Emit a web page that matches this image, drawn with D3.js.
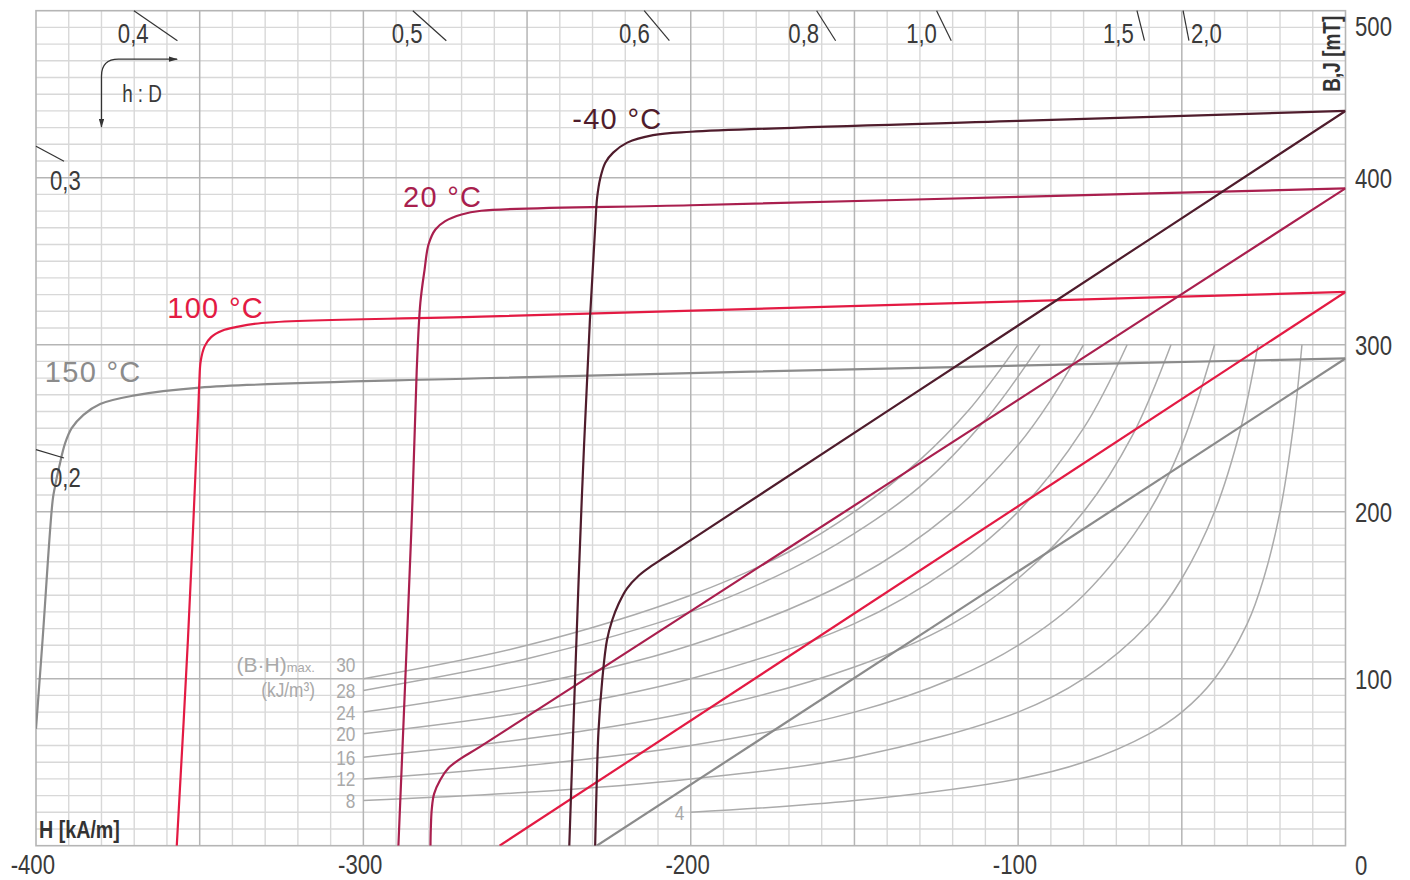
<!DOCTYPE html>
<html><head><meta charset="utf-8">
<script src="https://cdn.jsdelivr.net/npm/d3@7"></script>
<style>html,body{margin:0;padding:0;background:#fff;} svg{display:block}</style>
</head><body>
<svg id="c" width="1410" height="880"></svg>
<script>
// ================= DATA =================
const hTicks = [-400, -300, -200, -100];
const bTicks = [0, 100, 200, 300, 400, 500];
const temps = ["-40 °C", "20 °C", "100 °C", "150 °C"];

// J (intrinsic) and B (normal) demagnetisation curves, [H kA/m, B mT]
const jM40 = [[-237.1,0],[-235.5,91],[-233.3,207],[-230.8,315],[-229.2,370],[-228.6,388],[-227.6,400],[-226.1,409],[-223.7,415],[-219.4,421],[-211.5,425.5],[-200,427.5],[-100,434],[0,440]];
const bM40 = [[-229.2,0],[-228.8,32],[-228.2,68],[-227,100],[-225.6,123],[-224,135],[-222,145],[-219.5,154],[-216,161.5],[-212,167.5],[-208,172.7],[-200,183],[-100,311.5],[0,440]];
const j20  = [[-289.3,0],[-286.7,123],[-285,207],[-283.7,285],[-282.6,325],[-281.3,345],[-280.1,360],[-278,369],[-275,374],[-270,378],[-264,380.2],[-200,383.5],[-100,388.5],[0,393.6]];
const b20  = [[-279.5,0],[-279.4,10],[-279.1,22],[-278.4,31],[-276.5,39.5],[-274,46.5],[-270.4,52],[-264.3,59.3],[-200,140.5],[-100,267],[0,393.6]];
const j100 = [[-357,0],[-353.6,123],[-350.4,263],[-350.1,278],[-349.7,290],[-348.5,299],[-346.5,304.5],[-343,308.5],[-339,310.5],[-331,313],[-264,316.8],[-100,326],[0,331.6]];
const b100 = [[-258.4,0],[0,331.6]];
const j150 = [[-400,70],[-398,123],[-394.9,207],[-394.2,215],[-392.9,227],[-391.1,241],[-389.1,250],[-385.5,258],[-380.4,264.5],[-370.3,269.5],[-350,274.3],[-264,279.9],[-120,286.6],[0,291.8]];
const b150 = [[-228.7,0],[0,291.8]];

// (B·H)max curves, kJ/m³
const bhValues = [4, 8, 12, 16, 20, 24, 28, 30];
const bh4  = [[-200,20],[-150,27],[-100,40],[-80,50],[-60,67],[-50,80],[-40,100],[-30,133],[-25,160],[-20,200],[-16,250],[-13.3,300]];
const bh8  = [[-300,27],[-250,32],[-200,40],[-150,53],[-100,80],[-80,100],[-60,133],[-50,160],[-40,200],[-32,250],[-26.7,300]];
const bh12 = [[-300,40],[-250,48],[-200,60],[-150,80],[-120,100],[-100,120],[-80,150],[-60,200],[-50,240],[-40,300]];
const bh16 = [[-300,53],[-250,64],[-200,80],[-150,107],[-120,133],[-100,160],[-80,200],[-65,246],[-53.3,300]];
const bh20 = [[-300,67],[-250,80],[-200,100],[-150,133],[-120,167],[-100,200],[-80,250],[-66.7,300]];
const bh24 = [[-300,80],[-250,96],[-200,120],[-150,160],[-120,200],[-100,240],[-90,267],[-80,300]];
const bh28 = [[-300,93],[-250,112],[-200,140],[-170,165],[-150,187],[-130,215],[-110,255],[-93.3,300]];
const bh30 = [[-300,100],[-250,120],[-200,150],[-170,176],[-150,200],[-130,231],[-115,261],[-100,300]];

// load lines (h : D) – slope |B/H| in mT per kA/m
const pcLabels = ["0,2","0,3","0,4","0,5","0,6","0,8","1,0","1,5","2,0"];
const pcSlopes = [0.593, 1.047, 1.351, 1.755, 2.334, 3.095, 4.003, 7.85, 10.08];

// ================= DRAWING =================
function hasFont(name){
  const c=document.createElement('canvas').getContext('2d');
  const s="0123456789abcdefgHJmT";
  c.font="40px monospace"; const w1=c.measureText(s).width;
  c.font="40px '"+name+"', monospace"; const w2=c.measureText(s).width;
  return Math.abs(w1-w2)>0.5;
}
const NARROW = hasFont('Liberation Sans Narrow');
const condFont = NARROW ? "'Liberation Sans Narrow', sans-serif" : "'Liberation Sans', Arial, sans-serif";
const wideFont = "'Liberation Sans', Arial, Helvetica, sans-serif";
function cond(sel, f){
  if (NARROW) return sel;
  sel.each(function(){ const L=this.getComputedTextLength(); this.setAttribute('textLength', L*(f||0.82)); this.setAttribute('lengthAdjust','spacingAndGlyphs'); });
  return sel;
}

const svg = d3.select("#c");
const X0=36, X1=1345.5, Y0=845.7, Y1=10.7;
const x = d3.scaleLinear().domain([-400,0]).range([X0,X1]);
const y = d3.scaleLinear().domain([0,500]).range([Y0,Y1]);
const TXT = "#3a3a3a";

svg.append("rect").attr("width",1410).attr("height",880).attr("fill","#fff");

// grid
const grid = svg.append("g");
const vMinor = d3.range(-390, 0, 10).filter(h => h % 50 !== 0);
const vMajor = d3.range(-350, 0, 50);
const hMinor = d3.range(10, 500, 10).filter(b => b % 100 !== 0);
const hMajor = d3.range(100, 500, 100);
grid.selectAll(".vmin").data(vMinor).join("line").attr("class","vmin").attr("x1",d=>x(d)).attr("x2",d=>x(d)).attr("y1",Y1).attr("y2",Y0).attr("stroke","#d8d8d8").attr("stroke-width",1.4);
grid.selectAll(".hmin").data(hMinor).join("line").attr("class","hmin").attr("y1",d=>y(d)).attr("y2",d=>y(d)).attr("x1",X0).attr("x2",X1).attr("stroke","#d8d8d8").attr("stroke-width",1.4);
grid.selectAll(".vmaj").data(vMajor).join("line").attr("class","vmaj").attr("x1",d=>x(d)).attr("x2",d=>x(d)).attr("y1",Y1).attr("y2",Y0).attr("stroke","#b5b5b5").attr("stroke-width",1.5);
grid.selectAll(".hmaj").data(hMajor).join("line").attr("class","hmaj").attr("y1",d=>y(d)).attr("y2",d=>y(d)).attr("x1",X0).attr("x2",X1).attr("stroke","#b5b5b5").attr("stroke-width",1.5);
svg.append("rect").attr("x",X0).attr("y",Y1).attr("width",X1-X0).attr("height",Y0-Y1).attr("fill","none").attr("stroke","#b5b5b5").attr("stroke-width",1.6);

// clip + marker
const defs = svg.append("defs");
defs.append("clipPath").attr("id","plot").append("rect").attr("x",X0).attr("y",Y1).attr("width",X1-X0).attr("height",Y0-Y1);
defs.append("marker").attr("id","arr").attr("viewBox","0 0 10 6").attr("refX",9).attr("refY",3)
  .attr("markerWidth",9).attr("markerHeight",5.4).attr("markerUnits","userSpaceOnUse").attr("orient","auto-start-reverse")
  .append("path").attr("d","M0,0L10,3L0,6Z").attr("fill","#333");

const line = d3.line().x(d=>x(d[0])).y(d=>y(d[1])).curve(d3.curveCatmullRom.alpha(0.5));
const plot = svg.append("g").attr("clip-path","url(#plot)");

// (B·H)max curves
const bhCurves = [bh4, bh8, bh12, bh16, bh20, bh24, bh28, bh30];
plot.selectAll(".bh").data(bhCurves).join("path").attr("class","bh").attr("d",line).attr("fill","none").attr("stroke","#ababab").attr("stroke-width",1.5);

const bhG = svg.append("g").attr("font-family",condFont).attr("fill","#a9a9a9").attr("font-size",21);
bhCurves.forEach((c,i)=>{
  const v = bhValues[i];
  const t = bhG.append("text").attr("x", x(c[0][0]) - (v===4 ? 6.5 : 8)).attr("y", y(c[0][1]) + (v===30 ? -14 : 0))
    .attr("dy","0.36em").attr("text-anchor","end").text(v);
  cond(t);
});
const bhT1 = bhG.append("text").attr("x", x(-314.8)).attr("y", y(104)).attr("text-anchor","end").attr("font-size",21);
bhT1.append("tspan").text("(B\u00B7H)");
bhT1.append("tspan").attr("font-size",13).text("max.");
cond(bhG.append("text").attr("x", x(-314.8)).attr("y", y(89)).attr("text-anchor","end").attr("font-size",21).text("(kJ/m\u00B3)"));

// temperature curves
const series = [
  {name: temps[0], j: jM40, b: bM40, color: "#4f1c2c", at: [-236.2, 429.2]},
  {name: temps[1], j: j20,  b: b20,  color: "#a91f4e", at: [-287.9, 382.5]},
  {name: temps[2], j: j100, b: b100, color: "#e31a43", at: [-359.9, 316.0]},
  {name: temps[3], j: j150, b: b150, color: "#8b8b8b", at: [-397.3, 277.6]}
];
series.slice().reverse().forEach(s=>{
  plot.append("path").attr("d", line(s.b)).attr("fill","none").attr("stroke",s.color).attr("stroke-width",2.2).attr("stroke-linejoin","round");
  plot.append("path").attr("d", line(s.j)).attr("fill","none").attr("stroke",s.color).attr("stroke-width",2.2).attr("stroke-linejoin","round");
});
series.forEach(s=>{
  svg.append("text").attr("x", x(s.at[0])).attr("y", y(s.at[1])).attr("font-family",wideFont)
    .attr("font-size",29).attr("letter-spacing",1.3).attr("fill",s.color).text(s.name);
});

// load-line ticks
const O = [x(0), y(0)];
const pcG = svg.append("g").attr("font-family",condFont).attr("font-size",27).attr("fill",TXT);
pcSlopes.forEach((s,i)=>{
  const dx = x(-100)-O[0], dy = y(100*s)-O[1];
  const tTop = yy => (yy-O[1])/dy, tLeft = xx => (xx-O[0])/dx;
  const onTop = tTop(Y1) < tLeft(X0);
  const tO = Math.min(tTop(Y1), tLeft(X0));
  const tI = Math.min(tTop(Y1+30), tLeft(X0+28));
  const p0 = [O[0]+dx*tO, O[1]+dy*tO], p1 = [O[0]+dx*tI, O[1]+dy*tI];
  pcG.append("line").attr("x1",p0[0]).attr("y1",p0[1]).attr("x2",p1[0]).attr("y2",p1[1]).attr("stroke","#333").attr("stroke-width",1.2);
  let t;
  if (onTop) {
    if (i === pcSlopes.length-1) t = pcG.append("text").attr("x", p1[0]+2).attr("y", Y1+32).attr("text-anchor","start");
    else t = pcG.append("text").attr("x", (p0[0]+p1[0])/2 - 7).attr("y", Y1+32).attr("text-anchor","end");
  } else {
    t = pcG.append("text").attr("x", X0+14).attr("y", p1[1]+29).attr("text-anchor","start");
  }
  t.text(pcLabels[i]); cond(t);
});

// h : D annotation
const cx = x(-380), cy = y(471), r = 17;
svg.append("path").attr("d", `M${cx},${y(430.4)} L${cx},${cy+r} Q${cx},${cy} ${cx+r},${cy} L${x(-356.9)},${cy}`)
  .attr("fill","none").attr("stroke","#333").attr("stroke-width",1.3)
  .attr("marker-start","url(#arr)").attr("marker-end","url(#arr)");
cond(svg.append("text").attr("x", x(-367.6)).attr("y", y(445.3)).attr("text-anchor","middle")
  .attr("font-family",condFont).attr("font-size",23).attr("fill",TXT).text("h : D"));

// axes
const ax = svg.append("g").attr("transform",`translate(0,${Y0})`)
  .call(d3.axisBottom(x).tickValues(hTicks).tickSize(0).tickFormat(d=>String(d)));
ax.select(".domain").remove();
ax.selectAll("text").attr("y",28.5).attr("dy",0).attr("dx",-3.7)
  .attr("font-family",condFont).attr("font-size",27).attr("fill",TXT);
cond(ax.selectAll("text"));

const ay = svg.append("g").attr("transform",`translate(${X1},0)`)
  .call(d3.axisRight(y).tickValues(bTicks).tickSize(0).tickPadding(9.5).tickFormat(d=>String(d)));
ay.select(".domain").remove();
ay.selectAll("text").attr("dy", d => d===500 ? "0.91em" : d===0 ? "1.055em" : "0.38em")
  .attr("font-family",condFont).attr("font-size",27).attr("fill",TXT);
cond(ay.selectAll("text"));

// axis titles
cond(svg.append("text").attr("x", X0+3).attr("y", Y0-8).attr("font-family",condFont).attr("font-weight","bold")
  .attr("font-size",24).attr("fill","#333").text("H [kA/m]"));
svg.append("text").attr("transform",`translate(${X1-6},${Y1+81}) rotate(-90)`).attr("font-family",condFont)
  .attr("font-weight","bold").attr("font-size",23).attr("textLength",76).attr("lengthAdjust","spacingAndGlyphs")
  .attr("fill","#333").text("B,J [mT]");
</script>
</body></html>
